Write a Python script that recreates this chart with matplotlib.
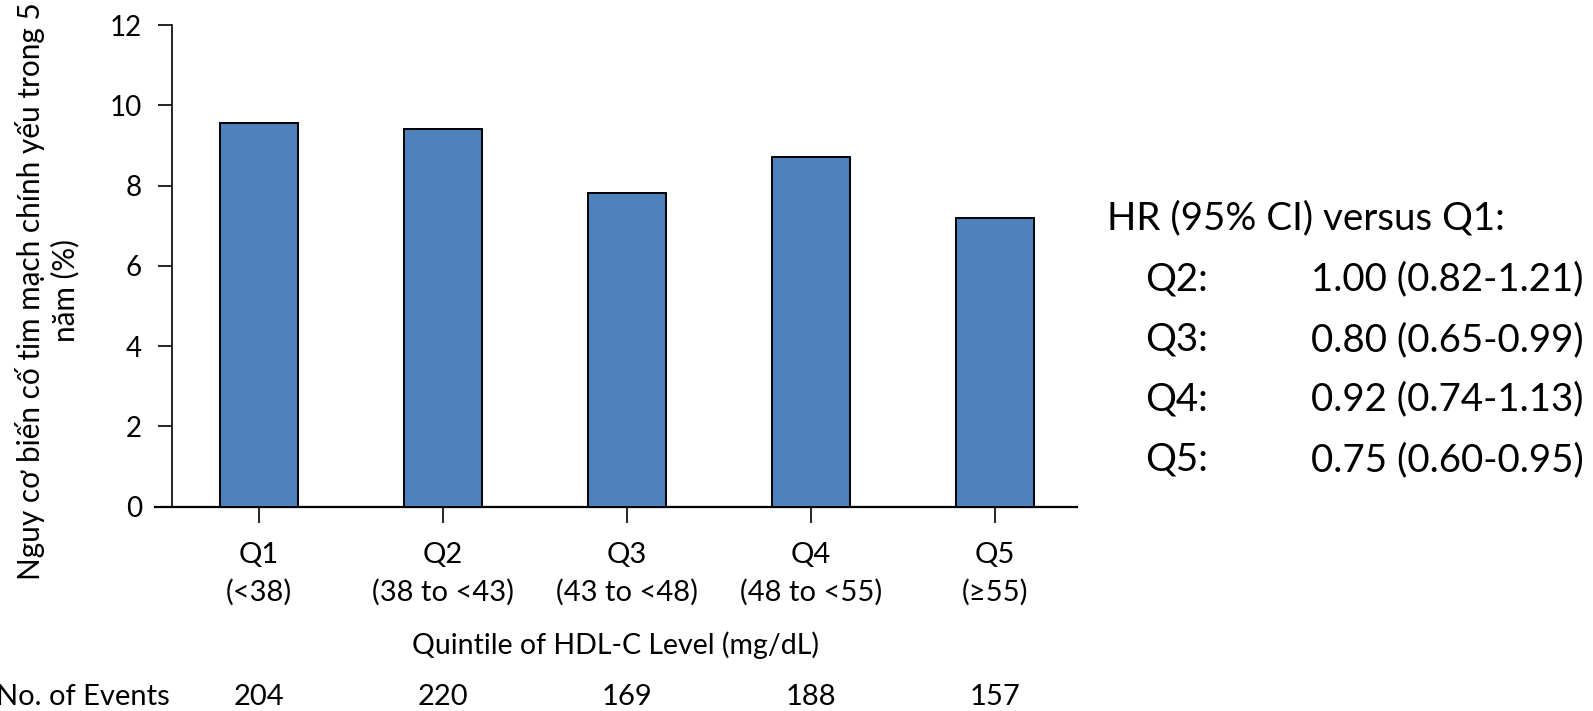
import matplotlib
matplotlib.use("Agg")
import matplotlib.pyplot as plt
import matplotlib.transforms as mtransforms

plt.rcParams['font.family'] = ['Lato', 'DejaVu Sans']

# ---- data ----
quintiles = ["Q1", "Q2", "Q3", "Q4", "Q5"]
ranges = ["(<38)", "(38 to <43)", "(43 to <48)", "(48 to <55)", "(≥55)"]
risk = [9.57, 9.41, 7.81, 8.72, 7.20]
events = [204, 220, 169, 188, 157]
hr_labels = ["Q2:", "Q3:", "Q4:", "Q5:"]
hr_values = ["1.00 (0.82-1.21)", "0.80 (0.65-0.99)", "0.92 (0.74-1.13)", "0.75 (0.60-0.95)"]
yticks = [0, 2, 4, 6, 8, 10, 12]

W, H = 1593, 711
fig = plt.figure(figsize=(W / 100, H / 100), dpi=100)

def fx(px):
    return px / W

def fy(py):
    return 1 - py / H

ax = fig.add_axes([fx(155), fy(506.7), fx(1076.7) - fx(155), fy(25) - fy(506.7)])
x = list(range(len(quintiles)))
ax.bar(x, risk, width=0.42, color="#4F81BD", edgecolor="black", linewidth=1.4, zorder=3)

for s in ["top", "right"]:
    ax.spines[s].set_visible(False)
ax.spines["left"].set_position(("data", -0.4745))
ax.spines["left"].set_linewidth(1.2)
ax.spines["bottom"].set_linewidth(1.6)

ax.set_xlim(-0.565, 4.444)
ax.set_ylim(0, 12)
ax.set_yticks(yticks)
ax.set_yticklabels([str(v) for v in yticks])
ax.set_xticks(x)
ax.set_xticklabels([f"{q}\n{r}" for q, r in zip(quintiles, ranges)], linespacing=1.5)
ax.tick_params(axis="y", direction="out", length=10, width=1.2, pad=11.5,
               colors="black", labelsize=20)
ax.tick_params(axis="x", direction="out", length=11.5, width=1.2, pad=14,
               colors="black", labelsize=21)

ax.set_xlabel("Quintile of HDL-C Level (mg/dL)", fontsize=20.5, labelpad=18)

fig.text(fx(47), fy(291), "Nguy cơ biến cố tim mạch chính yếu trong 5\nnăm (%)",
         rotation=90, ha="center", va="center", fontsize=21.4, linespacing=1.25)

# No. of events row
trans = mtransforms.blended_transform_factory(ax.transData, fig.transFigure)
fig.text(fx(170), fy(697), "No. of Events", ha="right", va="center", fontsize=21)
for xi, ev in zip(x, events):
    ax.text(xi, fy(697), str(ev), transform=trans, ha="center", va="center", fontsize=21)

# HR panel
fig.text(fx(1107), fy(218), "HR (95% CI) versus Q1:", ha="left", va="center", fontsize=27.7)
rows_y = [279, 340, 399, 460]
for lab, val, yy in zip(hr_labels, hr_values, rows_y):
    fig.text(fx(1145), fy(yy), lab, ha="left", va="center", fontsize=27.7)
    fig.text(fx(1311), fy(yy), val, ha="left", va="center", fontsize=27.7)

fig.savefig("out.png", dpi=100)
